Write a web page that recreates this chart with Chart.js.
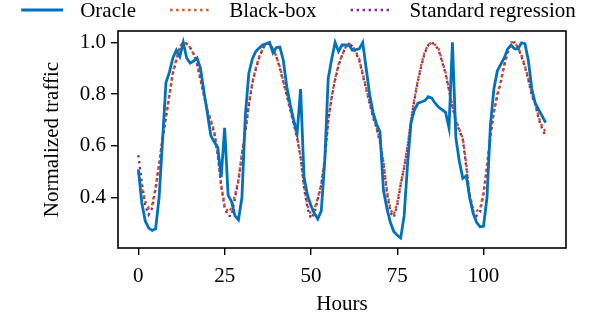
<!DOCTYPE html>
<html>
<head>
<meta charset="utf-8">
<script src="https://cdn.jsdelivr.net/npm/chart.js@4/dist/chart.umd.min.js"></script>
<style>
  html, body { margin: 0; padding: 0; background: #fff; }
  #wrap { width: 597px; height: 320px; }
</style>
</head>
<body>
<div id="wrap"><canvas id="c"></canvas></div>
<script>
// hourly samples, 0..118
const hours = Array.from({ length: 119 }, (_, i) => i);

const oracle = [
  0.51, 0.38, 0.31, 0.283, 0.274, 0.28, 0.40, 0.62, 0.845, 0.885,
  0.94, 0.97, 0.945, 1.0, 0.94, 0.92, 0.928, 0.94, 0.90, 0.81,
  0.725, 0.64, 0.615, 0.595, 0.48, 0.67, 0.41, 0.385, 0.33, 0.315,
  0.40, 0.72, 0.88, 0.935, 0.965, 0.978, 0.99, 0.995, 1.0, 0.96,
  0.98, 0.982, 0.93, 0.83, 0.76, 0.70, 0.65, 0.82, 0.48, 0.41,
  0.37, 0.34, 0.318, 0.35, 0.54, 0.86, 0.935, 1.0, 0.965, 0.99,
  0.99, 0.99, 0.97, 0.972, 0.975, 1.0, 0.90, 0.80, 0.73, 0.685,
  0.655, 0.43, 0.36, 0.305, 0.27, 0.255, 0.245, 0.33, 0.53, 0.69,
  0.74, 0.765, 0.77, 0.775, 0.79, 0.785, 0.765, 0.75, 0.74, 0.73,
  0.67, 1.0, 0.63, 0.54, 0.475, 0.485, 0.40, 0.34, 0.305, 0.288,
  0.29, 0.40, 0.68, 0.82, 0.89, 0.915, 0.94, 0.975, 0.99, 0.975,
  0.975, 0.998, 0.995, 0.93, 0.82, 0.765, 0.74, 0.715, 0.69
];

const blackBox = [
  0.50, 0.44, 0.385, 0.36, 0.375, 0.44, 0.53, 0.63, 0.715, 0.80,
  0.885, 0.935, 0.985, 1.0, 0.995, 0.98, 0.955, 0.92, 0.86, 0.80,
  0.74, 0.70, 0.655, 0.57, 0.45, 0.37, 0.345, 0.36, 0.41, 0.47,
  0.57, 0.66, 0.76, 0.845, 0.90, 0.945, 0.975, 0.995, 0.993, 0.975,
  0.945, 0.905, 0.85, 0.80, 0.745, 0.69, 0.635, 0.56, 0.445, 0.37,
  0.335, 0.355, 0.40, 0.455, 0.55, 0.70, 0.79, 0.86, 0.915, 0.95,
  0.98, 0.995, 0.985, 0.965, 0.935, 0.88, 0.825, 0.77, 0.715, 0.675,
  0.62, 0.54, 0.43, 0.355, 0.335, 0.38, 0.455, 0.52, 0.60, 0.70,
  0.785, 0.855, 0.915, 0.965, 0.99, 1.0, 0.99, 0.975, 0.93, 0.885,
  0.82, 0.755, 0.70, 0.665, 0.63, 0.53, 0.41, 0.36, 0.35, 0.355,
  0.42, 0.52, 0.64, 0.735, 0.80, 0.85, 0.915, 0.965, 1.0, 1.0,
  0.98, 0.95, 0.91, 0.86, 0.80, 0.765, 0.71, 0.675, 0.655
];

const standardReg = [
  0.565, 0.46, 0.37, 0.335, 0.36, 0.435, 0.525, 0.625, 0.71, 0.795,
  0.88, 0.93, 0.98, 1.0, 0.995, 0.98, 0.955, 0.915, 0.855, 0.795,
  0.735, 0.695, 0.65, 0.565, 0.445, 0.36, 0.33, 0.33, 0.40, 0.465,
  0.565, 0.655, 0.755, 0.84, 0.895, 0.94, 0.975, 0.995, 0.995, 0.975,
  0.945, 0.90, 0.845, 0.795, 0.74, 0.685, 0.63, 0.555, 0.44, 0.36,
  0.32, 0.34, 0.395, 0.45, 0.545, 0.695, 0.785, 0.855, 0.91, 0.95,
  0.98, 0.995, 0.985, 0.96, 0.93, 0.875, 0.82, 0.765, 0.71, 0.67,
  0.615, 0.535, 0.42, 0.345, 0.325, 0.37, 0.45, 0.515, 0.595, 0.695,
  0.78, 0.85, 0.91, 0.96, 0.99, 1.0, 0.99, 0.97, 0.925, 0.88,
  0.815, 0.75, 0.695, 0.66, 0.625, 0.52, 0.40, 0.35, 0.33, 0.345,
  0.415, 0.515, 0.635, 0.73, 0.795, 0.845, 0.91, 0.96, 0.995, 1.0,
  0.98, 0.945, 0.905, 0.855, 0.795, 0.76, 0.705, 0.665, 0.64
];

const xTicks = [0, 25, 50, 75, 100];
const yTicks = [0.4, 0.6, 0.8, 1.0];

const FONT = 'Liberation Serif';

const toXY = arr => arr.map((v, i) => ({ x: hours[i], y: v }));

// legend drawn like matplotlib: line handle + text, no box
const mplLegend = {
  id: 'mplLegend',
  afterDraw(chart) {
    const ctx = chart.ctx;
    const handle = 42, pad = 17, gap = 34, cy = 10;
    ctx.save();
    ctx.font = '21px "' + FONT + '"';
    const items = chart.data.datasets.map(ds => ({ ds, w: ctx.measureText(ds.label).width }));
    const total = items.reduce((a, it) => a + handle + pad + it.w, 0) + gap * (items.length - 1);
    let x = (chart.width - total) / 2;
    items.forEach(it => {
      ctx.beginPath();
      ctx.strokeStyle = it.ds.borderColor;
      ctx.lineWidth = it.ds.borderWidth;
      ctx.setLineDash(it.ds.borderDash || []);
      ctx.moveTo(x, cy);
      ctx.lineTo(x + handle, cy);
      ctx.stroke();
      ctx.setLineDash([]);
      ctx.fillStyle = '#000';
      ctx.textBaseline = 'middle';
      ctx.fillText(it.ds.label, x + handle + pad, cy + 1);
      x += handle + pad + it.w + gap;
    });
    ctx.restore();
  }
};

// full box around the plot area
const frame = {
  id: 'frame',
  afterDraw(chart) {
    const a = chart.chartArea, ctx = chart.ctx;
    ctx.save();
    ctx.strokeStyle = '#000';
    ctx.lineWidth = 1.6;
    ctx.strokeRect(a.left, a.top, a.right - a.left, a.bottom - a.top);
    ctx.restore();
  }
};

new Chart(document.getElementById('c'), {
  type: 'line',
  data: {
    datasets: [
      { label: 'Oracle', data: toXY(oracle), borderColor: '#0072BD', borderWidth: 2.8 },
      { label: 'Black-box', data: toXY(blackBox), borderColor: '#D95319', borderWidth: 2.4, borderDash: [2.4, 3.6] },
      { label: 'Standard regression', data: toXY(standardReg), borderColor: '#7E2F8E', borderWidth: 2.4, borderDash: [2.4, 3.6] }
    ]
  },
  options: {
    responsive: true,
    maintainAspectRatio: false,
    animation: false,
    layout: { padding: { top: 31, right: 31, left: 0, bottom: 0 } },
    elements: { point: { radius: 0 }, line: { tension: 0, borderCapStyle: 'butt' } },
    plugins: { legend: { display: false }, tooltip: { enabled: false } },
    scales: {
      x: {
        type: 'linear',
        min: -5.9,
        max: 123.9,
        afterBuildTicks: s => { s.ticks = xTicks.map(v => ({ value: v })); },
        afterFit: s => { s.height = 72; },
        grid: { drawOnChartArea: false, drawTicks: true, tickLength: 7, color: '#000', lineWidth: 1.4 },
        border: { display: false },
        ticks: { color: '#000', padding: 9, maxRotation: 0, font: { family: FONT, size: 21 } },
        title: { display: true, text: 'Hours', color: '#000', padding: { top: 0, bottom: 3 }, font: { family: FONT, size: 21 } }
      },
      y: {
        min: 0.206,
        max: 1.044,
        afterBuildTicks: s => { s.ticks = yTicks.map(v => ({ value: v })); },
        afterFit: s => { s.width = 118; },
        grid: { drawOnChartArea: false, drawTicks: true, tickLength: 7, color: '#000', lineWidth: 1.4 },
        border: { display: false },
        ticks: { color: '#000', padding: 5, callback: v => v.toFixed(1), font: { family: FONT, size: 21 } },
        title: { display: true, text: 'Normalized traffic', color: '#000', padding: { top: 40, bottom: 0 }, font: { family: FONT, size: 21 } }
      }
    }
  },
  plugins: [mplLegend, frame]
});
</script>
</body>
</html>
